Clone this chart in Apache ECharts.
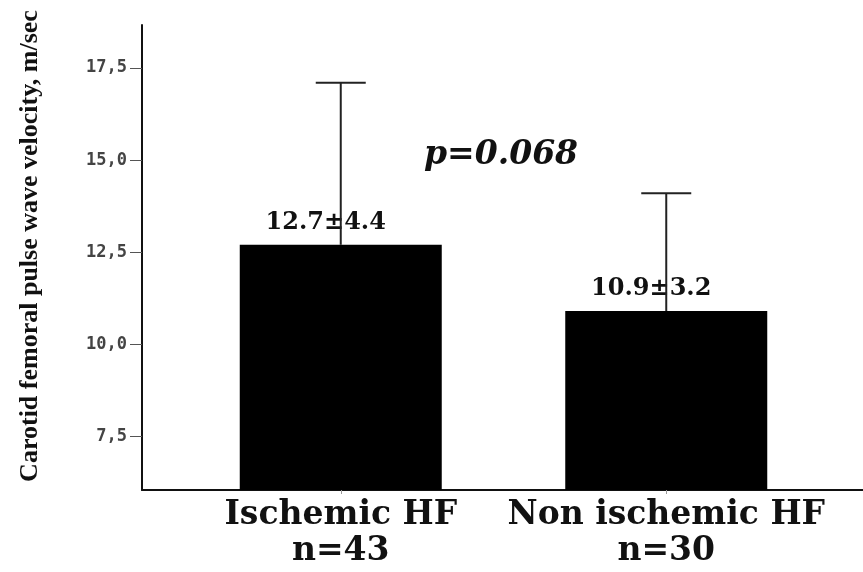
<!DOCTYPE html>
<html>
<head>
<meta charset="utf-8">
<script src="https://cdn.jsdelivr.net/npm/echarts@6/dist/echarts.min.js"></script>
<style>html,body{margin:0;padding:0;background:#fff;}#c{width:863px;height:572px;}</style>
</head>
<body>
<div id="c"></div>
<script>
var categories = ['Ischemic HF', 'Non ischemic HF'];
var groupN = ['n=43', 'n=30'];
var means = [12.7, 10.9];
var sds = [4.4, 3.2];
var barLabels = ['12.7±4.4', '10.9±3.2'];
var yTicks = [7.5, 10.0, 12.5, 15.0, 17.5];
var yTickLabels = ['7,5', '10,0', '12,5', '15,0', '17,5'];
var pText = 'p=0.068';
var yTitle = 'Carotid femoral pulse wave velocity, m/sec';

var yMin = 6.04, yMax = 18.67;
var chart = echarts.init(document.getElementById('c'));
chart.setOption({
  animation: false,
  backgroundColor: '#fff',
  grid: [
    {left: 142, right: 0, top: 25, bottom: 82},
    {left: 178, right: 34, top: 25, bottom: 82}
  ],
  xAxis: [
    {gridIndex: 0, type: 'value', min: 0, max: 1,
     axisLine: {show: true, onZero: false, lineStyle: {color: '#111', width: 2}},
     axisTick: {show: false}, axisLabel: {show: false}, splitLine: {show: false}},
    {gridIndex: 1, type: 'category', data: categories,
     axisLine: {show: false},
     axisTick: {show: true, alignWithLabel: true, length: 4, lineStyle: {color: '#999'}},
     axisLabel: {
       margin: 7, interval: 0,
       fontFamily: 'DejaVu Serif', fontWeight: 'bold', fontSize: 33, lineHeight: 36, color: '#111',
       formatter: function (v, i) { return v + '\n' + groupN[i]; }
     }}
  ],
  yAxis: [
    {gridIndex: 0, type: 'value', min: yMin, max: yMax,
     axisLine: {show: true, lineStyle: {color: '#111', width: 2}},
     axisTick: {show: true, length: 12, customValues: yTicks, lineStyle: {color: '#555', width: 1}},
     axisLabel: {show: true, margin: 15, customValues: yTicks,
       fontFamily: 'DejaVu Sans Mono', fontWeight: 'bold', fontSize: 17, color: '#444',
       formatter: function (v) {
         var i = yTicks.indexOf(v);
         return i >= 0 ? yTickLabels[i] : '';
       }},
     splitLine: {show: false}},
    {gridIndex: 1, type: 'value', min: yMin, max: yMax, show: false}
  ],
  series: [
    {type: 'bar', xAxisIndex: 1, yAxisIndex: 1, data: means, barWidth: 202,
     itemStyle: {color: '#000'},
     label: {show: true, position: 'top', distance: 10, offset: [-15, 0],
       fontFamily: 'DejaVu Serif', fontWeight: 'bold', fontSize: 24, color: '#111',
       formatter: function (p) { return barLabels[p.dataIndex]; }},
     z: 2},
    {type: 'custom', xAxisIndex: 1, yAxisIndex: 1, z: 5,
     data: means.map(function (m, i) { return [i, m, m + sds[i]]; }),
     renderItem: function (params, api) {
       var i = api.value(0);
       var p0 = api.coord([i, api.value(1)]);
       var p1 = api.coord([i, api.value(2)]);
       var half = 25;
       return {type: 'group', children: [
         {type: 'line', shape: {x1: p0[0], y1: p0[1], x2: p1[0], y2: p1[1]}, style: {stroke: '#222', lineWidth: 2}},
         {type: 'line', shape: {x1: p1[0] - half, y1: p1[1], x2: p1[0] + half, y2: p1[1]}, style: {stroke: '#222', lineWidth: 2}}
       ]};
     }}
  ],
  graphic: [
    {type: 'text', left: 424, top: 139, z: 10,
     style: {text: pText, fontFamily: 'DejaVu Serif', fontWeight: 'bold', fontStyle: 'italic', fontSize: 33, fill: '#111'}},
    {type: 'text', x: 30, y: 246, rotation: Math.PI / 2, z: 10,
     style: {text: yTitle, align: 'center', verticalAlign: 'middle',
       fontFamily: 'Liberation Serif', fontWeight: 'bold', fontSize: 26, fill: '#111'}}
  ]
});
</script>
</body>
</html>
